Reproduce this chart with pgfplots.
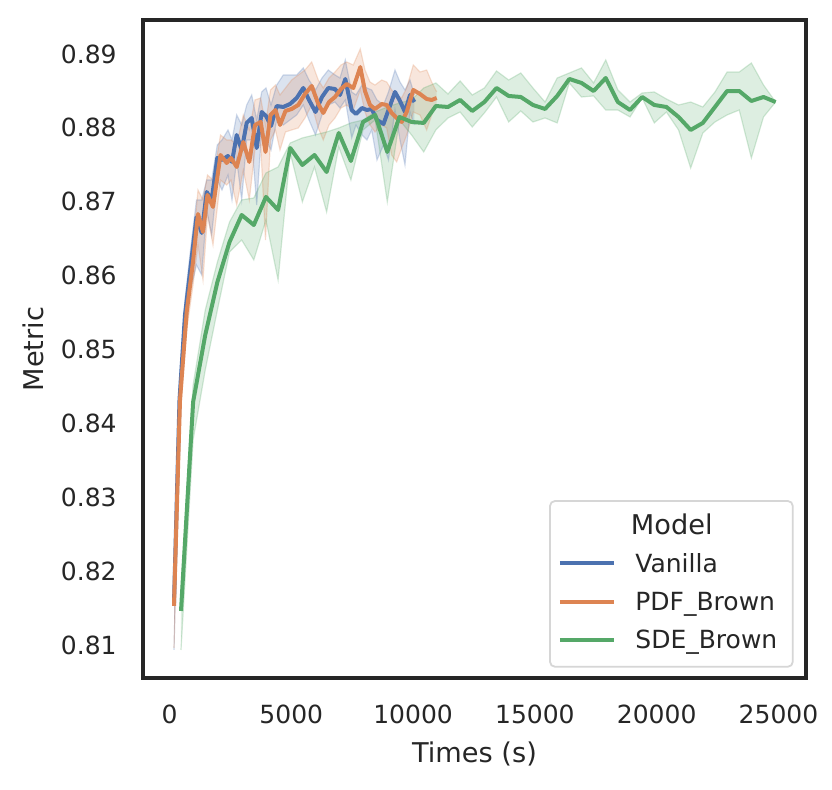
\documentclass[border=0pt]{standalone}
\usepackage{fontspec}
\setmainfont{DejaVu Sans}
\usepackage{pgfplots}
\usepackage{pgfplotstable}
\pgfplotsset{compat=1.18}
\usepgfplotslibrary{fillbetween}

\definecolor{c1}{HTML}{4C72B0}
\definecolor{c2}{HTML}{DD8452}
\definecolor{c3}{HTML}{55A868}
\definecolor{textgray}{HTML}{262626}
\definecolor{legendgray}{HTML}{D6D6D6}

\pgfplotstableread{
x y lo hi
185 0.81571 0.80935 0.81638
411 0.84318 0.84047 0.84588
636 0.85468 0.85198 0.85671
862 0.86105 0.85807 0.86348
1108 0.86794 0.86145 0.87025
1322 0.86578 0.86010 0.87025
1527 0.87133 0.86889 0.87295
1732 0.87025 0.86551 0.87295
1962 0.87593 0.87295 0.87769
2155 0.87566 0.87160 0.87837
2401 0.87620 0.87363 0.87972
2566 0.87539 0.87025 0.87837
2759 0.87904 0.87566 0.88175
2964 0.87701 0.87025 0.88039
3169 0.88067 0.87837 0.88310
3374 0.88134 0.87837 0.88445
3580 0.87728 0.86957 0.88107
3785 0.88215 0.87972 0.88486
3961 0.88161 0.87837 0.88540
4167 0.88026 0.87701 0.88310
4401 0.88296 0.88107 0.88580
4671 0.88283 0.88039 0.88716
4947 0.88323 0.88107 0.88716
5222 0.88405 0.88175 0.88716
5493 0.88540 0.88310 0.88811
5727 0.88378 0.88107 0.88648
5993 0.88215 0.87904 0.88513
6260 0.88418 0.88175 0.88675
6519 0.88540 0.88310 0.88783
6794 0.88526 0.88350 0.88716
6999 0.88445 0.88269 0.88675
7217 0.88662 0.88378 0.88919
7479 0.88242 0.87864 0.88486
7656 0.88188 0.88039 0.88445
7902 0.88269 0.87904 0.88580
8107 0.88242 0.87837 0.88540
8300 0.88256 0.87972 0.88513
8518 0.88107 0.87566 0.88378
8785 0.88053 0.87769 0.88310
8990 0.88242 0.87566 0.88486
9257 0.88486 0.88242 0.88783
9462 0.88364 0.87837 0.88621
9667 0.88215 0.87498 0.88513
9873 0.88445 0.88215 0.88648
10057 0.88350 0.88039 0.88445
}\vanilla

\pgfplotstableread{
x y lo hi
185 0.81531 0.80962 0.81679
431 0.84318 0.84047 0.84521
706 0.85509 0.85265 0.85739
965 0.86186 0.85874 0.86416
1170 0.86835 0.86416 0.87160
1375 0.86592 0.85942 0.87025
1560 0.87093 0.86821 0.87363
1786 0.86930 0.86416 0.87295
2094 0.87633 0.87295 0.87904
2348 0.87525 0.87227 0.87837
2525 0.87593 0.87295 0.87837
2759 0.87471 0.86957 0.87769
3029 0.87809 0.87430 0.88175
3276 0.87539 0.87025 0.87972
3510 0.88039 0.87701 0.88378
3744 0.88080 0.87769 0.88405
3941 0.87674 0.86483 0.88039
4146 0.88175 0.87837 0.88513
4351 0.88242 0.87972 0.88580
4536 0.88039 0.87701 0.88445
4762 0.88229 0.87945 0.88540
5016 0.88256 0.87972 0.88648
5287 0.88310 0.87999 0.88716
5562 0.88459 0.88134 0.88783
5837 0.88567 0.88310 0.88892
6108 0.88323 0.87999 0.88648
6313 0.88202 0.87837 0.88540
6548 0.88350 0.88039 0.88675
6794 0.88418 0.88134 0.88756
7040 0.88526 0.88269 0.88851
7274 0.88594 0.88310 0.88892
7545 0.88540 0.88242 0.88851
7832 0.88824 0.88513 0.89068
8025 0.88499 0.88215 0.88783
8231 0.88310 0.88039 0.88621
8436 0.88256 0.87945 0.88580
8711 0.88323 0.88039 0.88648
8916 0.88310 0.87999 0.88621
9121 0.88202 0.87633 0.88513
9327 0.88134 0.87539 0.88445
9532 0.88080 0.87728 0.88405
9737 0.88215 0.87904 0.88540
10008 0.88513 0.88215 0.88851
10283 0.88459 0.88175 0.88756
10558 0.88391 0.87972 0.88783
10763 0.88378 0.88175 0.88621
10969 0.88405 0.88323 0.88486
}\pdfbrown

\pgfplotstableread{
x y lo hi
472 0.81463 0.80935 0.81747
970 0.84291 0.83777 0.84521
1468 0.85198 0.84724 0.85536
1967 0.85915 0.85536 0.86186
2465 0.86456 0.86321 0.86727
2963 0.86821 0.86483 0.87025
3461 0.86686 0.86213 0.87052
3959 0.87066 0.86754 0.87390
4458 0.86889 0.85942 0.87471
4956 0.87728 0.87661 0.87796
5454 0.87498 0.86998 0.87864
5952 0.87633 0.87471 0.87904
6450 0.87403 0.86862 0.87945
6949 0.87931 0.87742 0.87999
7447 0.87552 0.87295 0.88067
7945 0.88080 0.87972 0.88107
8443 0.88175 0.88107 0.88215
8941 0.87674 0.86998 0.88283
9440 0.88148 0.88107 0.88337
9938 0.88080 0.87904 0.88378
10436 0.88067 0.87674 0.88540
10934 0.88296 0.87972 0.88608
11432 0.88283 0.88134 0.88459
11931 0.88378 0.88215 0.88635
12429 0.88229 0.88012 0.88445
12927 0.88350 0.88202 0.88540
13425 0.88540 0.88418 0.88770
13923 0.88432 0.88080 0.88648
14422 0.88418 0.88229 0.88743
14920 0.88310 0.88080 0.88540
15418 0.88256 0.88134 0.88350
15916 0.88432 0.88067 0.88675
16414 0.88662 0.88608 0.88743
16913 0.88608 0.88418 0.88811
17411 0.88499 0.88432 0.88608
17909 0.88675 0.88242 0.88919
18407 0.88350 0.88242 0.88513
18905 0.88242 0.88148 0.88350
19404 0.88418 0.88405 0.88472
19902 0.88310 0.88067 0.88486
20400 0.88283 0.88215 0.88391
20898 0.88148 0.87972 0.88310
21396 0.87972 0.87457 0.88350
21895 0.88067 0.87931 0.88283
22393 0.88283 0.88080 0.88486
22891 0.88499 0.88175 0.88756
23389 0.88499 0.88242 0.88756
23887 0.88364 0.87593 0.88878
24386 0.88418 0.88148 0.88580
24884 0.88350 0.88350 0.88350
}\sdebrown

\begin{document}
\begin{tikzpicture}
\begin{axis}[
  at={(0pt,0pt)}, anchor=south west,
  width=331.5pt, height=329pt, scale only axis,
  xmin=-1088, xmax=26130, ymin=0.80556, ymax=0.8946,
  xtick={0,5000,10000,15000,20000,25000},
  ytick={0.81,0.82,0.83,0.84,0.85,0.86,0.87,0.88,0.89},
  scaled x ticks=false, scaled y ticks=false,
  major tick length=0pt, minor tick num=0,
  axis line style={line width=1.7pt, color=textgray},
  /pgf/number format/assume math mode=true,
  tick label style={font=\fontsize{12.5}{15}\selectfont, text=textgray},
  xticklabel style={/pgf/number format/1000 sep={}, anchor=north, inner sep=0pt, yshift=-13.5pt},
  yticklabel style={/pgf/number format/fixed, /pgf/number format/fixed zerofill, /pgf/number format/precision=2, anchor=east, inner sep=0pt, xshift=-13pt},
  xlabel={Times (s)}, ylabel={Metric},
  label style={font=\fontsize{13.6}{16}\selectfont, text=textgray},
  xlabel style={at={(axis description cs:0.5,-0.1277)}, anchor=base},
  ylabel style={at={(axis description cs:-0.1508,0.5)}, anchor=base},
]
% bands
\addplot[name path=bU, draw=c1, draw opacity=0.25, line width=0.6pt, forget plot] table[x=x,y=hi]{\vanilla};
\addplot[name path=bL, draw=c1, draw opacity=0.25, line width=0.6pt, forget plot] table[x=x,y=lo]{\vanilla};
\addplot[fill=c1, fill opacity=0.2, draw=none, forget plot] fill between[of=bU and bL];
\addplot[name path=oU, draw=c2, draw opacity=0.25, line width=0.6pt, forget plot] table[x=x,y=hi]{\pdfbrown};
\addplot[name path=oL, draw=c2, draw opacity=0.25, line width=0.6pt, forget plot] table[x=x,y=lo]{\pdfbrown};
\addplot[fill=c2, fill opacity=0.2, draw=none, forget plot] fill between[of=oU and oL];
\addplot[name path=gU, draw=c3, draw opacity=0.25, line width=0.6pt, forget plot] table[x=x,y=hi]{\sdebrown};
\addplot[name path=gL, draw=c3, draw opacity=0.25, line width=0.6pt, forget plot] table[x=x,y=lo]{\sdebrown};
\addplot[fill=c3, fill opacity=0.2, draw=none, forget plot] fill between[of=gU and gL];
% lines
\addplot[c1, line width=2pt, line join=round, no markers] table[x=x,y=y]{\vanilla};
\addplot[c2, line width=2pt, line join=round, no markers] table[x=x,y=y]{\pdfbrown};
\addplot[c3, line width=2pt, line join=round, no markers] table[x=x,y=y]{\sdebrown};
\end{axis}
% legend
\draw[draw=legendgray, line width=0.9pt, fill=white, rounded corners=2.5pt] (203.5pt,5.6pt) rectangle (324.9pt,88.5pt);
\node[anchor=base, inner sep=0pt, font=\fontsize{13.6}{16}\selectfont, text=textgray] at (264.4pt,71.9pt) {Model};
\draw[c1, line width=2pt] (208.5pt,57.35pt) -- (235.5pt,57.35pt);
\node[anchor=base west, inner sep=0pt, font=\fontsize{12.5}{15}\selectfont, text=textgray] at (246pt,52.85pt) {Vanilla};
\draw[c2, line width=2pt] (208.5pt,38.15pt) -- (235.5pt,38.15pt);
\node[anchor=base west, inner sep=0pt, font=\fontsize{12.5}{15}\selectfont, text=textgray] at (246pt,33.65pt) {PDF\_Brown};
\draw[c3, line width=2pt] (208.5pt,19pt) -- (235.5pt,19pt);
\node[anchor=base west, inner sep=0pt, font=\fontsize{12.5}{15}\selectfont, text=textgray] at (246pt,14.5pt) {SDE\_Brown};
\path (-71.5pt,-56pt) rectangle (344.5pt,339pt);
\end{tikzpicture}
\end{document}
